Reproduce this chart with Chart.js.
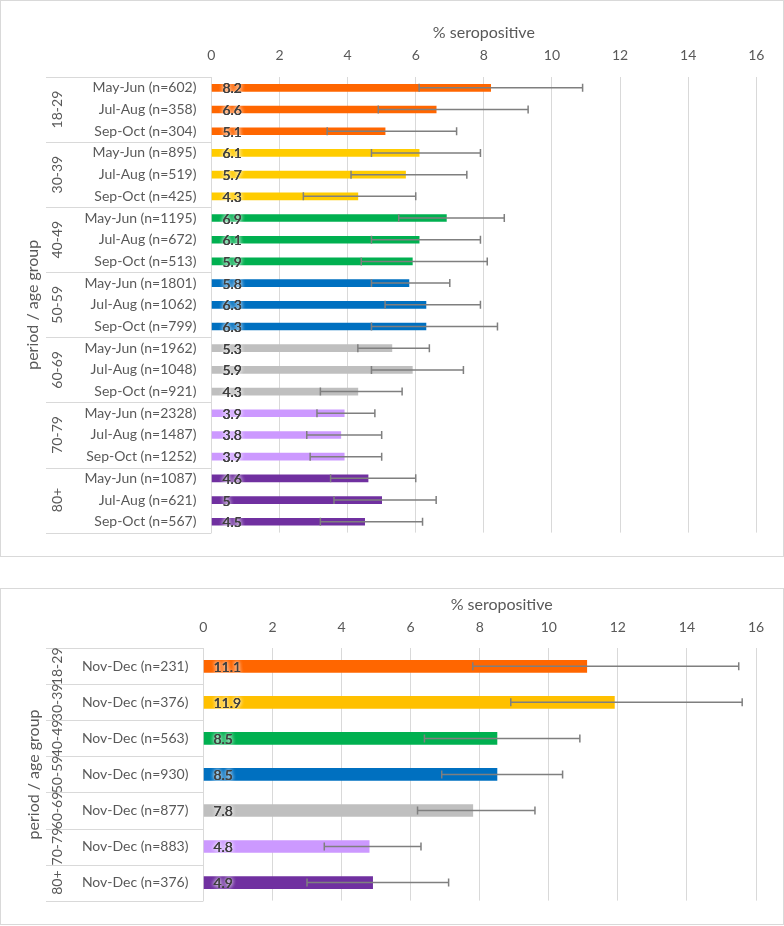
<!DOCTYPE html>
<html>
<head>
<meta charset="utf-8">
<script src="https://cdn.jsdelivr.net/npm/chart.js@4.4.1/dist/chart.umd.min.js"></script>
<style>
    body { margin: 0; background: #fff; font-family: Lato, sans-serif; }
    .panel { position: absolute; left: 0; width: 782px; border: 1px solid #D9D9D9; background: #fff; }
    #topPanel { top: 0; height: 555px; }
    #bottomPanel { top: 588px; height: 335px; }
    canvas { display: block; }
</style>
</head>
<body>
<div class="panel" id="topPanel"><canvas id="topChart" width="782" height="555"></canvas></div>
<div class="panel" id="bottomPanel"><canvas id="bottomChart" width="782" height="335"></canvas></div>
<script>
"use strict";

// ---- data ----
const ageGroups = ["18-29", "30-39", "40-49", "50-59", "60-69", "70-79", "80+"];

const topLabels = [
    "May-Jun (n=602)", "Jul-Aug (n=358)", "Sep-Oct (n=304)",
    "May-Jun (n=895)", "Jul-Aug (n=519)", "Sep-Oct (n=425)",
    "May-Jun (n=1195)", "Jul-Aug (n=672)", "Sep-Oct (n=513)",
    "May-Jun (n=1801)", "Jul-Aug (n=1062)", "Sep-Oct (n=799)",
    "May-Jun (n=1962)", "Jul-Aug (n=1048)", "Sep-Oct (n=921)",
    "May-Jun (n=2328)", "Jul-Aug (n=1487)", "Sep-Oct (n=1252)",
    "May-Jun (n=1087)", "Jul-Aug (n=621)", "Sep-Oct (n=567)"
];
const topValues = [8.2, 6.6, 5.1, 6.1, 5.7, 4.3, 6.9, 6.1, 5.9, 5.8, 6.3, 6.3, 5.3, 5.9, 4.3, 3.9, 3.8, 3.9, 4.6, 5, 4.5];
const topLower  = [6.1, 4.9, 3.4, 4.7, 4.1, 2.7, 5.5, 4.7, 4.4, 4.7, 5.1, 4.7, 4.3, 4.7, 3.2, 3.1, 2.8, 2.9, 3.5, 3.6, 3.2];
const topUpper  = [10.9, 9.3, 7.2, 7.9, 7.5, 6.0, 8.6, 7.9, 8.1, 7.0, 7.9, 8.4, 6.4, 7.4, 5.6, 4.8, 5.0, 5.0, 6.0, 6.6, 6.2];
const topPeriodsPerGroup = 3;

const bottomLabels = [
    "Nov-Dec (n=231)", "Nov-Dec (n=376)", "Nov-Dec (n=563)", "Nov-Dec (n=930)",
    "Nov-Dec (n=877)", "Nov-Dec (n=883)", "Nov-Dec (n=376)"
];
const bottomValues = [11.1, 11.9, 8.5, 8.5, 7.8, 4.8, 4.9];
const bottomLower  = [7.8, 8.9, 6.4, 6.9, 6.2, 3.5, 3.0];
const bottomUpper  = [15.5, 15.6, 10.9, 10.4, 9.6, 6.3, 7.1];
const bottomPeriodsPerGroup = 1;

const xTitle = "% seropositive";
const yTitle = "period / age group";

const topGroupColors = ["#FF6600", "#FFCC00", "#00B050", "#0070C0", "#BFBFBF", "#CC99FF", "#7030A0"];
const bottomGroupColors = ["#FF6600", "#FFC000", "#00B050", "#0070C0", "#BFBFBF", "#CC99FF", "#7030A0"];

const FONT = "Lato, 'Open Sans', sans-serif";
const AXIS_GREY = "#595959";
const LINE_GREY = "#D9D9D9";

// draws rotated age-group labels and the separators of the category column
const groupAxisPlugin = {
    id: "groupAxis",
    afterDraw(chart, args, opts) {
        const ctx = chart.ctx;
        const yScale = chart.scales.y;
        const area = chart.chartArea;
        const step = yScale.getPixelForValue(1) - yScale.getPixelForValue(0);

        ctx.save();
        ctx.strokeStyle = LINE_GREY;
        ctx.lineWidth = 1;

        ageGroups.forEach((group, i) => {
            const first = i * opts.perGroup;
            const last = first + opts.perGroup - 1;
            const top = yScale.getPixelForValue(first) - step / 2;
            const bottom = yScale.getPixelForValue(last) + step / 2;

            ctx.beginPath();
            ctx.moveTo(opts.lineLeft, Math.round(top) + 0.5);
            ctx.lineTo(area.left, Math.round(top) + 0.5);
            if (i === ageGroups.length - 1) {
                ctx.moveTo(opts.lineLeft, Math.round(bottom) + 0.5);
                ctx.lineTo(area.left, Math.round(bottom) + 0.5);
            }
            ctx.stroke();

            ctx.save();
            ctx.translate(opts.labelX, (top + bottom) / 2);
            ctx.rotate(-Math.PI / 2);
            ctx.fillStyle = AXIS_GREY;
            ctx.font = `14px ${FONT}`;
            ctx.textAlign = "center";
            ctx.textBaseline = "middle";
            ctx.fillText(group, 0, 0);
            ctx.restore();
        });

        // x axis title
        ctx.fillStyle = AXIS_GREY;
        ctx.font = `16px ${FONT}`;
        ctx.textAlign = "center";
        ctx.textBaseline = "middle";
        ctx.fillText(xTitle, (area.left + area.right) / 2 + opts.titleShift, opts.titleY);
        ctx.restore();
    }
};

// error bars + value labels, placed through the x scale
const errorBarPlugin = {
    id: "errorBars",
    afterDatasetsDraw(chart, args, opts) {
        const ctx = chart.ctx;
        const xScale = chart.scales.x;
        const meta = chart.getDatasetMeta(0);

        ctx.save();
        ctx.strokeStyle = "#7F7F7F";
        ctx.lineWidth = 1.5;

        meta.data.forEach((bar, i) => {
            const x1 = xScale.getPixelForValue(opts.lower[i]);
            const x2 = xScale.getPixelForValue(opts.upper[i]);
            const y = bar.y;

            ctx.beginPath();
            ctx.moveTo(x1, y);
            ctx.lineTo(x2, y);
            ctx.moveTo(x1, y - opts.cap);
            ctx.lineTo(x1, y + opts.cap);
            ctx.moveTo(x2, y - opts.cap);
            ctx.lineTo(x2, y + opts.cap);
            ctx.stroke();
        });

        ctx.font = `14px ${FONT}`;
        ctx.textAlign = "left";
        ctx.textBaseline = "middle";
        const base = xScale.getPixelForValue(0);

        meta.data.forEach((bar, i) => {
            const text = String(chart.data.datasets[0].data[i]);
            ctx.shadowColor = "rgba(255,255,255,1)";
            ctx.shadowBlur = 4;
            ctx.fillStyle = "#404040";
            ctx.fillText(text, base + opts.labelOffset, bar.y + 1);
            ctx.fillText(text, base + opts.labelOffset, bar.y + 1);
            ctx.shadowBlur = 0;
            ctx.fillText(text, base + opts.labelOffset, bar.y + 1);
        });
        ctx.restore();
    }
};

document.addEventListener("DOMContentLoaded", () => {
    Chart.defaults.font.family = FONT;
    Chart.defaults.color = AXIS_GREY;

    buildChart("topChart", {
        labels: topLabels,
        values: topValues,
        lower: topLower,
        upper: topUpper,
        colors: topGroupColors,
        perGroup: topPeriodsPerGroup,
        barThickness: 7,
        axisWidth: 210.4,
        axisHeight: 76,
        padding: { right: 26.7, bottom: 18.3 },
        tickPadding: 13.6,
        yTitlePad: 22,
        titleY: 32,
        titleShift: 0,
        labelOffset: 11,
        cap: 4
    });

    buildChart("bottomChart", {
        labels: bottomLabels,
        values: bottomValues,
        lower: bottomLower,
        upper: bottomUpper,
        colors: bottomGroupColors,
        perGroup: bottomPeriodsPerGroup,
        barThickness: 12,
        axisWidth: 202.4,
        axisHeight: 59.3,
        padding: { right: 27, bottom: 17.9 },
        tickPadding: 12.2,
        yTitlePad: 23,
        titleY: 16,
        titleShift: 22,
        labelOffset: 10,
        cap: 4
    });
});

function buildChart(canvasId, cfg) {
    const ctx = document.getElementById(canvasId);

    if (!ctx) {
        console.warn(`${canvasId} canvas not found.`);
        return null;
    }

    const barColors = cfg.labels.map((_, i) => cfg.colors[Math.floor(i / cfg.perGroup)]);

    return new Chart(ctx, {
        type: "bar",
        data: {
            labels: cfg.labels,
            datasets: [
                {
                    data: cfg.values,
                    backgroundColor: barColors,
                    borderWidth: 0,
                    barThickness: cfg.barThickness
                }
            ]
        },
        options: {
            indexAxis: "y",
            responsive: false,
            animation: false,
            devicePixelRatio: 1,
            layout: {
                padding: { left: 0, top: 0, right: cfg.padding.right, bottom: cfg.padding.bottom }
            },
            plugins: {
                legend: { display: false },
                tooltip: { enabled: false },
                groupAxis: {
                    perGroup: cfg.perGroup,
                    lineLeft: 45,
                    labelX: 56,
                    titleY: cfg.titleY,
                    titleShift: cfg.titleShift
                },
                errorBars: {
                    lower: cfg.lower,
                    upper: cfg.upper,
                    cap: cfg.cap,
                    labelOffset: cfg.labelOffset
                }
            },
            scales: {
                x: {
                    position: "top",
                    min: 0,
                    max: 16,
                    ticks: {
                        stepSize: 2,
                        padding: cfg.tickPadding,
                        color: AXIS_GREY,
                        font: { size: 14 }
                    },
                    grid: {
                        color: LINE_GREY,
                        lineWidth: 1,
                        drawTicks: false
                    },
                    border: { display: false },
                    afterFit: scale => { scale.height = cfg.axisHeight; }
                },
                y: {
                    ticks: {
                        padding: 15,
                        color: AXIS_GREY,
                        font: { size: 14 }
                    },
                    grid: { display: false, drawTicks: false },
                    border: { display: true, color: LINE_GREY },
                    title: {
                        display: true,
                        text: yTitle,
                        color: AXIS_GREY,
                        font: { size: 16 },
                        padding: { top: cfg.yTitlePad, bottom: 0 }
                    },
                    afterFit: scale => { scale.width = cfg.axisWidth; }
                }
            }
        },
        plugins: [groupAxisPlugin, errorBarPlugin]
    });
}
</script>
</body>
</html>
